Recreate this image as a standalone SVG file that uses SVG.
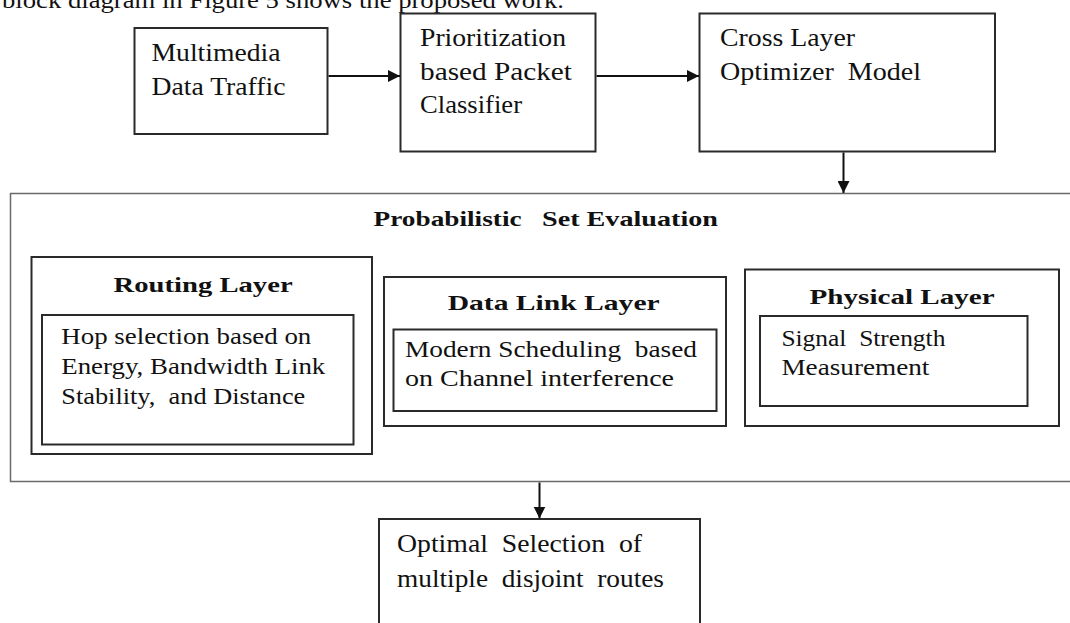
<svg xmlns="http://www.w3.org/2000/svg" width="1070" height="623" viewBox="0 0 1070 623">
  <defs>
    <marker id="arrow" viewBox="0 0 12 12" refX="12" refY="6" markerWidth="12" markerHeight="12" markerUnits="userSpaceOnUse" orient="auto">
      <path d="M0,0 L12,6 L0,12 Z" fill="#111"/>
    </marker>
  </defs>
  <style>
    .box { fill: none; stroke: #2a2a2a; stroke-width: 2; }
    .frame { fill: none; stroke: #6a6a6a; stroke-width: 1.5; }
    .t { font-family: "Liberation Serif", "Times New Roman", serif; fill: #111; white-space: pre; }
    .body { font-size: 24px; }
    .lg { font-size: 26px; }
    .hd { font-size: 22px; font-weight: bold; }
    .link { stroke: #111; stroke-width: 2; fill: none; marker-end: url(#arrow); }
  </style>
  <rect width="1070" height="623" fill="#fff"/>

  <!-- running text line above the figure -->
  <text class="t" x="2" y="8" font-size="24" textLength="562" lengthAdjust="spacingAndGlyphs">block diagram in Figure 5 shows the proposed work.</text>

  <g id="multimedia">
    <rect class="box" x="134.5" y="28" width="193" height="106"/>
    <text class="t lg" x="151.5" y="61" textLength="129" lengthAdjust="spacingAndGlyphs">Multimedia</text>
    <text class="t lg" x="151.5" y="94.5" textLength="134" lengthAdjust="spacingAndGlyphs">Data Traffic</text>
  </g>

  <g id="classifier">
    <rect class="box" x="400.5" y="13.5" width="195" height="138"/>
    <text class="t lg" x="420" y="46" textLength="146" lengthAdjust="spacingAndGlyphs">Prioritization</text>
    <text class="t lg" x="420" y="79.5" textLength="152" lengthAdjust="spacingAndGlyphs">based Packet</text>
    <text class="t lg" x="420" y="113" textLength="102" lengthAdjust="spacingAndGlyphs">Classifier</text>
  </g>

  <g id="optimizer">
    <rect class="box" x="699.5" y="13.5" width="295.5" height="138"/>
    <text class="t lg" x="720" y="46" textLength="135" lengthAdjust="spacingAndGlyphs">Cross Layer</text>
    <text class="t lg" x="720" y="80" textLength="201" lengthAdjust="spacingAndGlyphs">Optimizer  Model</text>
  </g>

  <g id="evaluation">
    <rect class="frame" x="10.5" y="193.5" width="1075" height="288"/>
    <text class="t hd" x="373.6" y="226" textLength="148" lengthAdjust="spacingAndGlyphs">Probabilistic</text>
    <text class="t hd" x="542" y="226" textLength="176" lengthAdjust="spacingAndGlyphs">Set Evaluation</text>
  </g>

  <g id="routing-layer">
    <rect class="box" x="31.5" y="257" width="340.5" height="197"/>
    <text class="t hd" x="113.6" y="292" textLength="179" lengthAdjust="spacingAndGlyphs">Routing Layer</text>
    <rect class="box" x="42" y="315" width="311.5" height="129.5"/>
    <text class="t body" x="61.3" y="344" textLength="250" lengthAdjust="spacingAndGlyphs">Hop selection based on</text>
    <text class="t body" x="61.3" y="373.5" textLength="264" lengthAdjust="spacingAndGlyphs">Energy, Bandwidth Link</text>
    <text class="t body" x="61.3" y="403.5" textLength="244" lengthAdjust="spacingAndGlyphs">Stability,  and Distance</text>
  </g>

  <g id="data-link-layer">
    <rect class="box" x="384" y="277" width="342" height="149"/>
    <text class="t hd" x="447.7" y="310" textLength="212" lengthAdjust="spacingAndGlyphs">Data Link Layer</text>
    <rect class="box" x="393.5" y="329.5" width="323" height="81.5"/>
    <text class="t body" x="405" y="356.5" textLength="292" lengthAdjust="spacingAndGlyphs">Modern Scheduling  based</text>
    <text class="t body" x="405" y="385.5" textLength="269" lengthAdjust="spacingAndGlyphs">on Channel interference</text>
  </g>

  <g id="physical-layer">
    <rect class="box" x="745" y="269.5" width="314" height="156.5"/>
    <text class="t hd" x="809.6" y="303.5" textLength="185" lengthAdjust="spacingAndGlyphs">Physical Layer</text>
    <rect class="box" x="760" y="316" width="267.5" height="90"/>
    <text class="t body" x="781.4" y="346" textLength="164" lengthAdjust="spacingAndGlyphs">Signal  Strength</text>
    <text class="t body" x="781.4" y="374.5" textLength="148" lengthAdjust="spacingAndGlyphs">Measurement</text>
  </g>

  <g id="route-selection">
    <rect class="box" x="379" y="519" width="321" height="130"/>
    <text class="t lg" x="397" y="552" textLength="245" lengthAdjust="spacingAndGlyphs">Optimal  Selection  of</text>
    <text class="t lg" x="397" y="587" textLength="267" lengthAdjust="spacingAndGlyphs">multiple  disjoint  routes</text>
  </g>

  <g id="connectors">
    <line class="link" x1="328.5" y1="76" x2="400" y2="76"/>
    <line class="link" x1="596.5" y1="76" x2="699" y2="76"/>
    <line class="link" x1="843.5" y1="152.5" x2="843.5" y2="193"/>
    <line class="link" x1="539.5" y1="482.5" x2="539.5" y2="518.5"/>
  </g>
</svg>
